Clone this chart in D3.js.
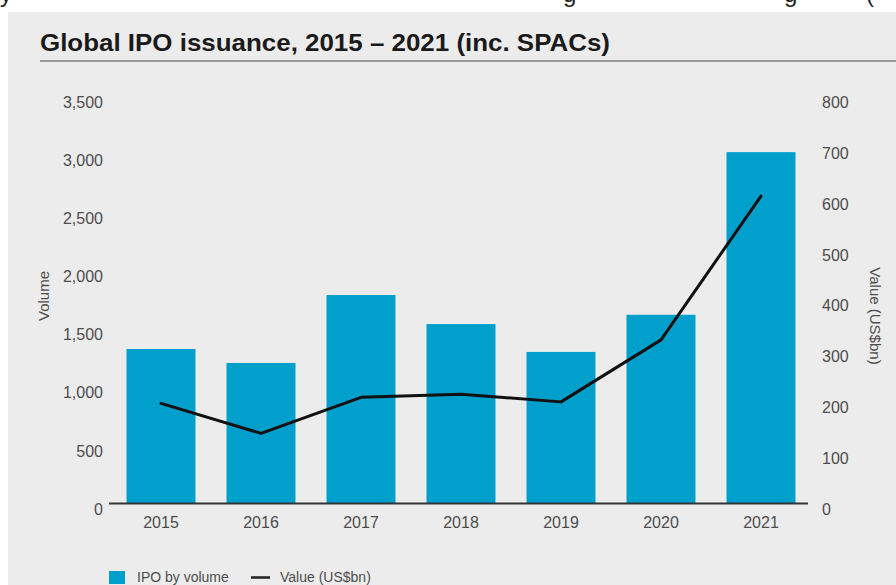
<!DOCTYPE html>
<html>
<head>
<meta charset="utf-8">
<script src="https://cdn.jsdelivr.net/npm/d3@7"></script>
<style>
  html, body { margin: 0; padding: 0; background: #ffffff; }
  svg { display: block; }
  text { font-family: "Liberation Sans", Arial, Helvetica, sans-serif; }
</style>
</head>
<body>
<svg id="chart" width="896" height="585"></svg>
<script>
// Global IPO issuance by year: number of deals (bars) and proceeds in US$bn (line)
const years = ["2015", "2016", "2017", "2018", "2019", "2020", "2021"];
const ipoVolume = [1330, 1210, 1795, 1545, 1305, 1625, 3025];
const ipoValue = [197, 138, 209, 215, 200, 322, 605];
const volumeTicks = [0, 500, 1000, 1500, 2000, 2500, 3000, 3500];
const valueTicks = [0, 100, 200, 300, 400, 500, 600, 700, 800];

const titleText = "Global IPO issuance, 2015 \u2013 2021 (inc. SPACs)";
const legendLabels = ["IPO by volume", "Value (US$bn)"];

const W = 896, H = 585;
const barColor = "#009fcc";
const panelColor = "#ececec";
const labelColor = "#4d4d4d";

const svg = d3.select("#chart");

// Page strip above the panel, with the descenders of the preceding line
svg.append("rect").attr("x", 0).attr("y", 0).attr("width", W).attr("height", H).attr("fill", "#ffffff");
const strip = svg.append("g");
[["y", 0], ["g", 563], ["g", 784], ["(", 866]].forEach(([ch, x]) => {
  strip.append("text").attr("x", x).attr("y", 2)
    .attr("font-size", 24).attr("fill", "#222").text(ch);
});

// Grey panel
svg.append("rect").attr("x", 8).attr("y", 12).attr("width", W - 8).attr("height", H - 12)
  .attr("fill", panelColor);

// Title (condensed to its set width) and the rule under it
svg.append("text").attr("x", 40).attr("y", 51)
  .attr("font-size", 24).attr("font-weight", "bold").attr("fill", "#1a1a1a")
  .attr("textLength", 570).attr("lengthAdjust", "spacingAndGlyphs")
  .text(titleText);
svg.append("line").attr("x1", 40).attr("x2", W).attr("y1", 61).attr("y2", 61)
  .attr("stroke", "#9a9a9a").attr("stroke-width", 2);

// Scales
const x = d3.scaleBand().domain(years).range([111, 811]).paddingInner(0.31).paddingOuter(0.155);
const yL = d3.scaleLinear().domain([0, 3500]).range([503.5, 97]);
const yR = d3.scaleLinear().domain([0, 800]).range([503.5, 97]);

// Bars
svg.append("g").selectAll("rect").data(years).join("rect")
  .attr("x", d => x(d))
  .attr("width", x.bandwidth())
  .attr("y", (d, i) => yL(ipoVolume[i]))
  .attr("height", (d, i) => yL(0) - yL(ipoVolume[i]))
  .attr("fill", barColor);

// Left axis (volume)
const axisL = d3.axisLeft(yL).tickValues(volumeTicks).tickFormat(d3.format(",")).tickSize(0).tickPadding(0);
const gL = svg.append("g").attr("transform", "translate(103,0)").call(axisL);
gL.select(".domain").remove();
gL.selectAll("text").attr("font-size", 16).attr("fill", labelColor)
  .attr("font-family", "Liberation Sans, Arial, sans-serif").attr("dy", "0.32em")
  .attr("transform", "translate(0,5.5)");

// Right axis (value)
const axisR = d3.axisRight(yR).tickValues(valueTicks).tickSize(0).tickPadding(0);
const gR = svg.append("g").attr("transform", "translate(822,0)").call(axisR);
gR.select(".domain").remove();
gR.selectAll("text").attr("font-size", 16).attr("fill", labelColor)
  .attr("font-family", "Liberation Sans, Arial, sans-serif").attr("dy", "0.32em")
  .attr("transform", "translate(0,5.5)");

// Category axis
const axisB = d3.axisBottom(x).tickSize(0).tickPadding(0);
const gB = svg.append("g").attr("transform", "translate(0,503.5)").call(axisB);
gB.select(".domain").remove();
gB.selectAll("text").attr("font-size", 16).attr("fill", labelColor)
  .attr("font-family", "Liberation Sans, Arial, sans-serif").attr("dy", 0).attr("y", 24);

// Baseline
svg.append("line").attr("x1", 109).attr("x2", 808).attr("y1", yL(0)).attr("y2", yL(0))
  .attr("stroke", "#333").attr("stroke-width", 2);

// Value line
const line = d3.line().x((d, i) => x(years[i]) + x.bandwidth() / 2).y(d => yR(d));
svg.append("path").datum(ipoValue).attr("d", line)
  .attr("fill", "none").attr("stroke", "#111").attr("stroke-width", 3)
  .attr("stroke-linejoin", "round").attr("stroke-linecap", "round");

// Axis titles
svg.append("text").attr("transform", "translate(49,296) rotate(-90)")
  .attr("text-anchor", "middle").attr("font-size", 15).attr("fill", labelColor).text("Volume");
svg.append("text").attr("transform", "translate(870,316) rotate(90)")
  .attr("text-anchor", "middle").attr("font-size", 15).attr("fill", labelColor).text("Value (US$bn)");

// Legend
const lg = svg.append("g");
lg.append("rect").attr("x", 109).attr("y", 571).attr("width", 16).attr("height", 13).attr("fill", barColor);
lg.append("text").attr("x", 137).attr("y", 582).attr("font-size", 14).attr("fill", labelColor).text(legendLabels[0]);
lg.append("line").attr("x1", 251).attr("x2", 270).attr("y1", 577.5).attr("y2", 577.5)
  .attr("stroke", "#222").attr("stroke-width", 2.5);
lg.append("text").attr("x", 280).attr("y", 582).attr("font-size", 14).attr("fill", labelColor).text(legendLabels[1]);
</script>
</body>
</html>
